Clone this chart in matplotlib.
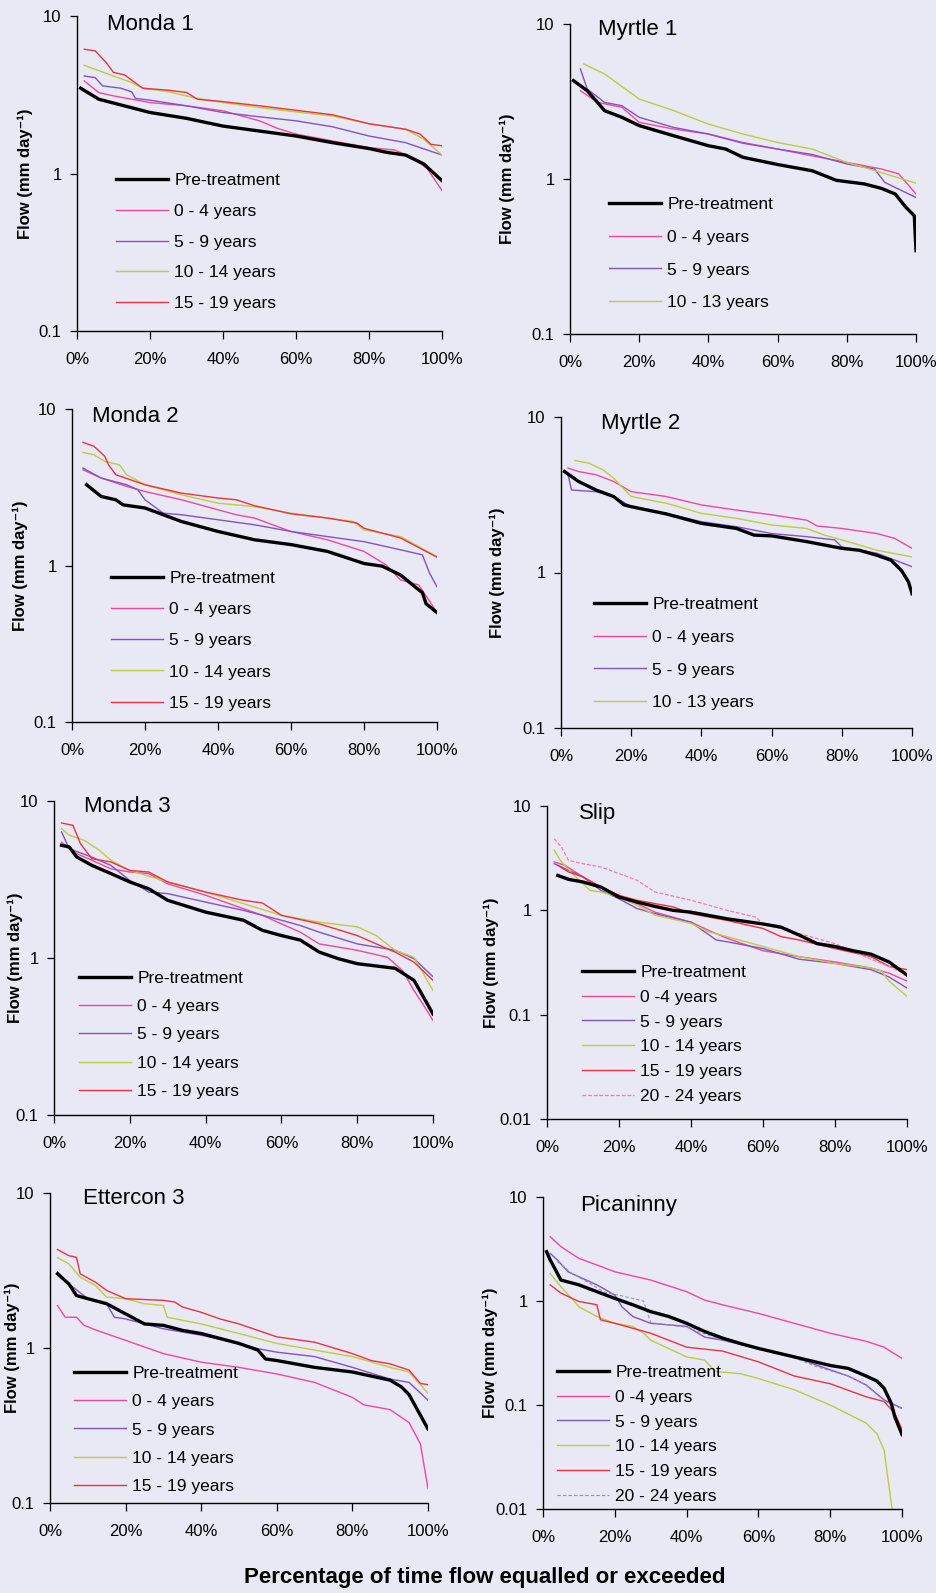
"""Flow duration curves for eight catchments, pre- and post-treatment periods"""
import matplotlib
matplotlib.use("Agg")
import matplotlib.pyplot as plt
from matplotlib.ticker import FixedLocator, NullLocator

plt.rcParams["font.family"] = ["Liberation Sans", "DejaVu Sans"]

# ── data: (percent of time exceeded, flow mm/day) ───────────────────────────

monda1_pre = [(1, 3.48), (6, 2.96), (20, 2.44), (30, 2.24), (40, 2.0), (50, 1.86), (60, 1.73),
              (70, 1.57), (80, 1.44), (85, 1.36), (90, 1.31), (95, 1.15), (100, 0.90)]
monda1_y0 = [(2, 3.87), (6, 3.26), (10, 3.11), (20, 2.82), (30, 2.69), (40, 2.50), (50, 2.16),
             (55, 1.93), (60, 1.78), (70, 1.61), (80, 1.46), (87, 1.41), (92, 1.26), (96, 1.07),
             (100, 0.78)]
monda1_y5 = [(2, 4.16), (5, 4.06), (7, 3.6), (12, 3.48), (15, 3.3), (16, 3.0), (20, 2.92),
             (30, 2.69), (40, 2.44), (50, 2.29), (60, 2.16), (70, 1.98), (80, 1.73), (90, 1.57),
             (100, 1.31)]
monda1_y10 = [(2, 4.86), (10, 4.16), (15, 3.78), (18, 3.48), (25, 3.31), (32, 3.03), (40, 2.82),
              (50, 2.62), (60, 2.46), (70, 2.32), (80, 2.07), (90, 1.91), (95, 1.65), (100, 1.31)]
monda1_y15 = [(2, 6.15), (5, 6.0), (8, 5.06), (10, 4.38), (13, 4.23), (18, 3.48), (25, 3.38),
              (30, 3.27), (33, 2.96), (40, 2.86), (50, 2.69), (60, 2.52), (70, 2.36), (80, 2.07),
              (90, 1.91), (94, 1.78), (97, 1.53), (100, 1.50)]

myrtle1_pre = [(1, 4.31), (5, 3.71), (10, 2.76), (15, 2.50), (20, 2.21), (30, 1.90), (40, 1.64),
               (45, 1.56), (50, 1.38), (60, 1.24), (70, 1.13), (77, 0.98), (85, 0.93), (90, 0.87),
               (94, 0.80), (97, 0.66), (99.5, 0.58), (100, 0.345)]
myrtle1_y0 = [(3, 3.71), (8, 3.12), (15, 2.9), (20, 2.32), (30, 2.10), (40, 1.95), (50, 1.72),
              (60, 1.56), (70, 1.41), (80, 1.28), (90, 1.16), (95, 1.08), (100, 0.80)]
myrtle1_y5 = [(3, 5.13), (5, 3.8), (10, 3.12), (15, 2.97), (20, 2.5), (30, 2.15), (40, 1.95),
              (50, 1.70), (60, 1.56), (70, 1.44), (80, 1.25), (88, 1.16), (91, 0.95), (95, 0.86),
              (100, 0.76)]
myrtle1_y10 = [(4, 5.52), (10, 4.76), (20, 3.28), (30, 2.76), (40, 2.26), (50, 1.95), (60, 1.72),
               (70, 1.56), (80, 1.28), (90, 1.10), (100, 0.94)]

monda2_pre = [(4, 3.28), (8, 2.76), (12, 2.63), (14, 2.44), (20, 2.33), (25, 2.11), (30, 1.91),
              (40, 1.65), (50, 1.46), (60, 1.36), (70, 1.23), (80, 1.03), (85, 0.99), (90, 0.87),
              (94, 0.73), (96, 0.67), (97, 0.57), (100, 0.50)]
monda2_y0 = [(3, 4.09), (8, 3.62), (15, 3.2), (20, 2.97), (30, 2.63), (40, 2.27), (45, 2.11),
             (50, 2.01), (55, 1.82), (60, 1.65), (70, 1.46), (80, 1.23), (86, 1.01), (90, 0.81),
             (95, 0.75), (98, 0.59), (100, 0.50)]
monda2_y5 = [(3, 4.19), (8, 3.62), (15, 3.28), (18, 3.05), (20, 2.63), (25, 2.16), (30, 2.11),
             (40, 1.96), (50, 1.82), (60, 1.65), (70, 1.53), (80, 1.42), (90, 1.26), (96, 1.17),
             (98, 0.89), (100, 0.73)]
monda2_y10 = [(3, 5.28), (6, 5.1), (9, 4.63), (13, 4.4), (15, 3.8), (20, 3.28), (30, 2.83),
              (40, 2.5), (45, 2.44), (50, 2.38), (60, 2.16), (70, 2.01), (77, 1.91), (80, 1.69),
              (90, 1.53), (100, 1.14)]
monda2_y15 = [(3, 6.12), (6, 5.78), (9, 4.98), (10, 4.40), (12, 3.8), (20, 3.28), (30, 2.9),
              (40, 2.70), (45, 2.63), (50, 2.41), (60, 2.14), (70, 2.01), (78, 1.87), (80, 1.73),
              (90, 1.50), (100, 1.13)]

myrtle2_pre = [(1, 4.46), (5, 3.85), (10, 3.39), (15, 3.08), (18, 2.72), (20, 2.65), (30, 2.38),
               (40, 2.07), (50, 1.92), (55, 1.74), (60, 1.72), (70, 1.58), (80, 1.43), (85, 1.39),
               (90, 1.29), (94, 1.20), (97, 1.03), (99, 0.87), (100, 0.73)]
myrtle2_y0 = [(2, 4.69), (5, 4.46), (10, 4.25), (15, 3.85), (20, 3.31), (30, 3.08), (40, 2.72),
              (50, 2.52), (60, 2.35), (70, 2.17), (73, 1.99), (80, 1.92), (90, 1.78), (95, 1.66),
              (100, 1.43)]
myrtle2_y5 = [(2, 4.25), (3, 3.39), (10, 3.31), (15, 3.08), (20, 2.65), (30, 2.40), (40, 2.12),
              (50, 1.97), (60, 1.78), (70, 1.70), (78, 1.62), (80, 1.46), (90, 1.33), (100, 1.09)]
myrtle2_y10 = [(4, 5.25), (8, 5.04), (12, 4.57), (15, 4.04), (20, 3.08), (25, 2.93), (30, 2.79),
               (40, 2.40), (50, 2.23), (60, 2.02), (70, 1.92), (75, 1.74), (80, 1.62), (90, 1.39),
               (100, 1.26)]

monda3_pre = [(2, 5.22), (4, 5.1), (6, 4.4), (10, 3.89), (15, 3.45), (20, 3.05), (25, 2.76),
              (30, 2.33), (40, 1.96), (50, 1.74), (55, 1.50), (60, 1.39), (65, 1.30), (70, 1.09),
              (75, 0.99), (80, 0.92), (90, 0.86), (95, 0.72), (100, 0.44)]
monda3_y0 = [(2, 5.47), (5, 4.74), (10, 4.19), (15, 3.70), (20, 3.53), (25, 3.45), (30, 2.97),
             (40, 2.51), (50, 2.06), (55, 1.87), (60, 1.65), (65, 1.46), (70, 1.23), (80, 1.12),
             (88, 1.01), (92, 0.83), (95, 0.62), (98, 0.48), (100, 0.40)]
monda3_y5 = [(2, 6.35), (4, 4.97), (10, 4.39), (15, 3.89), (20, 3.12), (25, 2.63), (30, 2.57),
             (40, 2.27), (50, 2.01), (60, 1.74), (65, 1.61), (70, 1.46), (80, 1.23), (90, 1.12),
             (95, 0.99), (100, 0.76)]
monda3_y10 = [(2, 6.66), (4, 6.05), (8, 5.61), (12, 4.85), (15, 4.19), (20, 3.61), (30, 3.05),
              (40, 2.63), (50, 2.22), (60, 1.87), (70, 1.69), (80, 1.58), (85, 1.39), (90, 1.12),
              (95, 1.01), (100, 0.62)]
monda3_y15 = [(2, 7.24), (5, 7.0), (7, 5.34), (10, 4.29), (15, 4.09), (20, 3.61), (25, 3.53),
              (30, 3.05), (40, 2.63), (50, 2.33), (55, 2.24), (60, 1.87), (70, 1.65), (80, 1.39),
              (90, 1.09), (95, 0.94), (100, 0.72)]

slip_pre = [(3, 2.16), (6, 1.98), (10, 1.87), (15, 1.67), (20, 1.34), (25, 1.20), (30, 1.09),
            (35, 1.0), (40, 0.96), (50, 0.83), (60, 0.74), (65, 0.69), (70, 0.58), (75, 0.48),
            (80, 0.45), (85, 0.41), (90, 0.38), (95, 0.32), (100, 0.24)]
slip_y0 = [(2, 2.91), (5, 2.70), (10, 2.09), (15, 1.67), (20, 1.39), (25, 1.16), (30, 0.96),
           (40, 0.77), (45, 0.64), (50, 0.54), (60, 0.41), (70, 0.36), (80, 0.32), (90, 0.28),
           (95, 0.25), (100, 0.21)]
slip_y5 = [(2, 2.80), (5, 2.51), (10, 2.09), (15, 1.55), (20, 1.29), (25, 1.04), (30, 0.93),
           (40, 0.77), (47, 0.52), (50, 0.50), (60, 0.43), (70, 0.34), (80, 0.31), (90, 0.27),
           (95, 0.23), (100, 0.18)]
slip_y10 = [(2, 3.76), (4, 2.91), (8, 2.09), (12, 1.55), (15, 1.50), (20, 1.34), (25, 1.12),
            (30, 0.90), (40, 0.75), (45, 0.62), (50, 0.56), (60, 0.45), (70, 0.36), (80, 0.31),
            (90, 0.28), (93, 0.26), (95, 0.21), (100, 0.15)]
slip_y15 = [(3, 2.70), (6, 2.33), (10, 2.09), (15, 1.67), (20, 1.39), (25, 1.25), (30, 1.16),
            (35, 1.08), (40, 0.93), (50, 0.80), (60, 0.67), (65, 0.56), (70, 0.52), (80, 0.43),
            (90, 0.36), (95, 0.29), (100, 0.27)]
slip_y20 = [(2, 4.86), (4, 4.05), (6, 3.01), (10, 2.80), (15, 2.60), (20, 2.25), (25, 1.94),
            (30, 1.50), (40, 1.25), (50, 1.0), (58, 0.86), (60, 0.74), (70, 0.60), (80, 0.48),
            (90, 0.34), (95, 0.29), (100, 0.24)]

etter_pre = [(2, 3.01), (5, 2.59), (7, 2.18), (10, 2.08), (15, 1.93), (20, 1.66), (25, 1.43),
             (30, 1.40), (35, 1.30), (40, 1.24), (50, 1.07), (55, 0.97), (57, 0.85), (60, 0.83),
             (70, 0.75), (80, 0.70), (90, 0.62), (93, 0.56), (95, 0.50), (100, 0.30)]
etter_y0 = [(2, 1.88), (4, 1.58), (7, 1.58), (9, 1.40), (12, 1.31), (20, 1.12), (30, 0.92),
            (40, 0.81), (50, 0.75), (60, 0.68), (70, 0.60), (80, 0.48), (83, 0.43), (90, 0.40),
            (95, 0.33), (98, 0.24), (100, 0.124)]
etter_y5 = [(2, 3.09), (5, 2.59), (10, 2.08), (15, 1.93), (17, 1.58), (20, 1.54), (30, 1.33),
            (40, 1.21), (50, 1.07), (55, 0.99), (60, 0.94), (70, 0.88), (80, 0.75), (90, 0.63),
            (95, 0.60), (100, 0.46)]
etter_y10 = [(2, 3.82), (5, 3.49), (8, 2.86), (12, 2.53), (15, 2.13), (20, 2.08), (25, 1.93),
             (30, 1.88), (31, 1.58), (40, 1.43), (50, 1.24), (60, 1.07), (70, 0.97), (80, 0.88),
             (90, 0.75), (95, 0.70), (100, 0.51)]
etter_y15 = [(2, 4.32), (5, 3.94), (7, 3.85), (8, 3.01), (12, 2.66), (15, 2.35), (20, 2.08),
             (30, 2.03), (33, 1.98), (35, 1.84), (40, 1.70), (45, 1.54), (50, 1.43), (60, 1.18),
             (70, 1.09), (80, 0.92), (85, 0.83), (90, 0.79), (95, 0.72), (98, 0.59), (100, 0.58)]

pican_pre = [(1, 2.98), (2, 2.48), (3, 2.14), (5, 1.59), (10, 1.43), (15, 1.23), (20, 1.06),
             (25, 0.92), (30, 0.79), (35, 0.71), (40, 0.61), (45, 0.51), (50, 0.44), (55, 0.39),
             (60, 0.35), (70, 0.29), (80, 0.24), (85, 0.225), (90, 0.19), (93, 0.17),
             (95, 0.145), (97, 0.104), (98, 0.077), (100, 0.052)]
pican_y0 = [(2, 4.15), (5, 3.33), (10, 2.57), (15, 2.22), (20, 1.91), (30, 1.59), (40, 1.23),
            (45, 1.02), (50, 0.92), (60, 0.76), (70, 0.61), (80, 0.49), (90, 0.41), (95, 0.36),
            (100, 0.28)]
pican_y5 = [(2, 2.87), (4, 2.48), (7, 1.91), (10, 1.71), (15, 1.43), (20, 1.14), (22, 0.88),
            (25, 0.71), (30, 0.61), (40, 0.57), (45, 0.45), (50, 0.42), (60, 0.35), (70, 0.29),
            (78, 0.23), (85, 0.19), (90, 0.156), (95, 0.112), (100, 0.093)]
pican_y10 = [(2, 1.84), (5, 1.37), (8, 1.06), (10, 0.88), (15, 0.71), (20, 0.61), (25, 0.57),
             (28, 0.49), (30, 0.42), (40, 0.29), (45, 0.27), (48, 0.21), (55, 0.20), (60, 0.18),
             (70, 0.14), (80, 0.10), (90, 0.067), (93, 0.053), (95, 0.037), (97, 0.0115),
             (97.5, 0.009)]
pican_y15 = [(2, 1.43), (5, 1.19), (10, 0.99), (15, 0.92), (16, 0.66), (20, 0.61), (30, 0.49),
             (40, 0.36), (50, 0.33), (60, 0.26), (70, 0.19), (80, 0.16), (90, 0.12), (95, 0.108),
             (98, 0.083), (100, 0.058)]
pican_y20 = [(4, 2.4), (8, 1.85), (12, 1.55), (17, 1.22), (22, 1.12), (28, 1.0), (30, 0.62),
             (40, 0.56), (50, 0.42), (60, 0.345), (70, 0.285), (76, 0.235), (85, 0.19),
             (90, 0.155), (95, 0.11), (100, 0.092)]

labels5 = ["Pre-treatment", "0 - 4 years", "5 - 9 years", "10 - 14 years", "15 - 19 years"]
labels_myrtle = ["Pre-treatment", "0 - 4 years", "5 - 9 years", "10 - 13 years"]
labels6 = ["Pre-treatment", "0 -4 years", "5 - 9 years", "10 - 14 years", "15 - 19 years",
           "20 - 24 years"]

# ── styling / layout ──────────────────────────────────────────────────────────

W, H = 937, 1593
BG = "#e9e8f5"
styles = [dict(color="black", lw=2.4, zorder=5),
          dict(color="#f2479e", lw=1.0),
          dict(color="#8253c4", lw=1.0),
          dict(color="#bccd3e", lw=1.0),
          dict(color="#f0303f", lw=1.0),
          dict(color="#f07ab8", lw=0.9, ls=(0, (3, 1.5)))]

# name, curves, labels, axes box px (left, right, top, bottom), ymin,
# title left px, title centre y px, ylabel offset px, legend handle left px,
# legend first row centre px, legend label spacing
panels = [
    ("Monda 1", [monda1_pre, monda1_y0, monda1_y5, monda1_y10, monda1_y15], labels5,
     (77, 442, 16, 331), 0.1, 107, 25, -44, 116, 180, 0.90),
    ("Myrtle 1", [myrtle1_pre, myrtle1_y0, myrtle1_y5, myrtle1_y10], labels_myrtle,
     (570, 916, 24, 334), 0.1, 598, 29, -55, 609, 204, 1.01),
    ("Monda 2", [monda2_pre, monda2_y0, monda2_y5, monda2_y10, monda2_y15], labels5,
     (72, 437, 409, 722), 0.1, 92, 416, -44, 111, 578, 0.92),
    ("Myrtle 2", [myrtle2_pre, myrtle2_y0, myrtle2_y5, myrtle2_y10], labels_myrtle,
     (561, 912, 417, 728), 0.1, 601, 424, -56, 594, 604, 1.01),
    ("Monda 3", [monda3_pre, monda3_y0, monda3_y5, monda3_y10, monda3_y15], labels5,
     (54, 433, 801, 1115), 0.1, 84, 807, -31, 79, 978, 0.75),
    ("Slip", [slip_pre, slip_y0, slip_y5, slip_y10, slip_y15, slip_y20], labels6,
     (547, 907, 806, 1119), 0.01, 579, 813, -48, 582, 972, 0.55),
    ("Ettercon 3", [etter_pre, etter_y0, etter_y5, etter_y10, etter_y15], labels5,
     (50, 428, 1193, 1503), 0.1, 83, 1198, -30, 74, 1373, 0.75),
    ("Picaninny", [pican_pre, pican_y0, pican_y5, pican_y10, pican_y15, pican_y20], labels6,
     (543, 902, 1197, 1509), 0.01, 580, 1205, -45, 557, 1372, 0.55),
]

fig = plt.figure(figsize=(W / 100, H / 100), dpi=100)
fig.patch.set_facecolor(BG)

for (name, curves, labels, box, ymin, tx, ty, ylo, lx, ly, lsp) in panels:
    left, right, top, bottom = box
    aw, ah = right - left, bottom - top
    ax = fig.add_axes([left / W, 1 - bottom / H, aw / W, ah / H])
    ax.set_facecolor("none")
    handles = []
    for i, (pts, lab) in enumerate(zip(curves, labels)):
        st = dict(styles[i])
        if name == "Picaninny" and i == 5:
            st = dict(color="#8e92b8", lw=0.8, ls=(0, (3, 2)))
        xs = [p[0] for p in pts]
        ys = [p[1] for p in pts]
        h, = ax.plot(xs, ys, label=lab, solid_joinstyle="round", **st)
        handles.append(h)

    ax.set_yscale("log")
    ax.set_ylim(ymin, 10)
    ax.set_xlim(0, 100)
    yt = [10, 1, 0.1] + ([0.01] if ymin < 0.1 else [])
    ax.yaxis.set_major_locator(FixedLocator(yt))
    ax.yaxis.set_minor_locator(NullLocator())
    ax.set_yticklabels([f"{v:g}" for v in yt])
    ax.set_xticks(range(0, 101, 20))
    ax.set_xticklabels([f"{v}%" for v in range(0, 101, 20)])
    ax.tick_params(axis="y", direction="out", length=5, width=0.9, labelsize=12, pad=6)
    ax.tick_params(axis="x", direction="out", length=6, width=0.9, labelsize=12, pad=9)
    for s in ("top", "right"):
        ax.spines[s].set_visible(False)
    for s in ("left", "bottom"):
        ax.spines[s].set_linewidth(1.0)

    ax.set_ylabel("Flow (mm day⁻¹)", fontsize=12, fontweight="bold")
    ax.yaxis.set_label_coords(ylo / aw, 0.5)

    ax.text((tx - left) / aw, 1 - (ty - top) / ah, name, transform=ax.transAxes,
            fontsize=16, ha="left", va="center")

    ax.legend(handles=handles, loc="upper left", frameon=False, fontsize=12.5,
              bbox_to_anchor=((lx - left) / aw, 1 - (ly - 7 - top) / ah),
              borderpad=0, borderaxespad=0, handlelength=3.0, handletextpad=0.35,
              labelspacing=lsp)

fig.text(485 / W, 1 - 1578 / H, "Percentage of time flow equalled or exceeded",
         ha="center", va="center", fontsize=16, fontweight="bold")

plt.savefig("out.png", dpi=100, facecolor=BG)
print("Saved out.png")
